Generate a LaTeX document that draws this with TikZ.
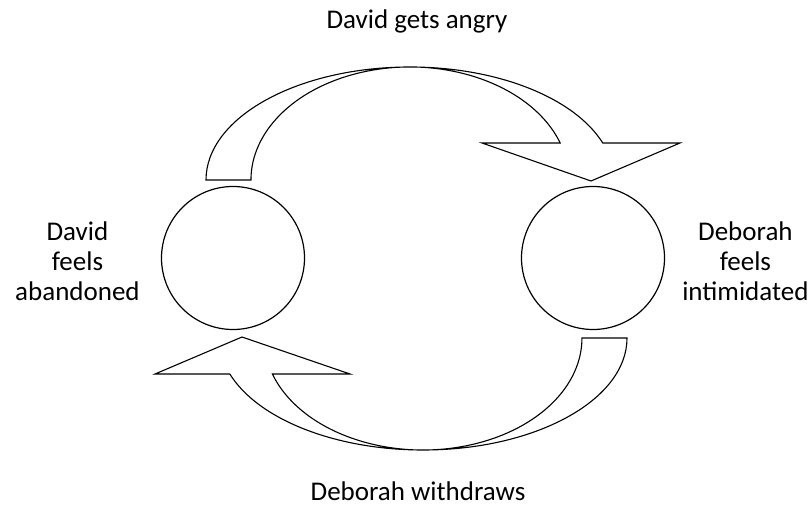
\documentclass[tikz,border=0pt]{standalone}
\usepackage{fontspec}
\setmainfont{Carlito}
\usetikzlibrary{positioning}
\tikzset{
  feeling/.style={circle, draw=black, line width=1.2pt, minimum size=143pt, inner sep=0pt},
  caption/.style={align=center, inner sep=0pt, font=\fontsize{27}{30}\selectfont},
  bigarrow/.style={draw=black, line width=1.1pt, line join=miter, fill=white},
}
\begin{document}
\begin{tikzpicture}[x=1pt, y=1pt]
\useasboundingbox (0,0) rectangle (810,507);

\node[feeling] (david) at (233,249) {};
\node[feeling] (deborah) at (593,249) {};

\node[caption, left=21pt of david, yshift=-3pt] (abandoned) {David\\feels\\abandoned};
\node[caption, right=17pt of deborah, yshift=-3pt] (intimidated) {Deborah\\feels\\intimidated};

\node[caption, anchor=base] (angry) at (417,478) {David gets angry};
\node[caption, anchor=base] (withdraws) at (418,7) {Deborah withdraws};

% top arrow: David -> Deborah
\draw[bigarrow] (206,327) arc[start angle=180, end angle=19.1, x radius=204, y radius=113]
  -- (680,364) -- (591,326) -- (482,364) -- (560.2,364)
  arc[start angle=19.1, end angle=180, x radius=159, y radius=113] -- cycle;

% bottom arrow: Deborah -> David
\draw[bigarrow] (627,169) arc[start angle=0, end angle=-161.25, x radius=204, y radius=112]
  -- (155,133) -- (242,170) -- (350,133) -- (272.4,133)
  arc[start angle=-161.25, end angle=0, x radius=159, y radius=112] -- cycle;
\end{tikzpicture}
\end{document}
